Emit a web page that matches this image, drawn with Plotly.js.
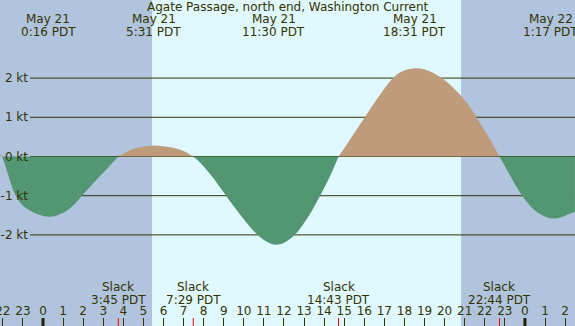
<!DOCTYPE html>
<html><head><meta charset="utf-8">
<script src="https://cdn.plot.ly/plotly-3.0.1.min.js"></script>
<style>html,body{margin:0;padding:0;overflow:hidden;background:#B0C4DE;}#chart{width:575px;height:326px;}</style>
</head><body><div id="chart"></div>
<script>
const chartTitle = 'Agate Passage, north end, Washington Current';
// hours relative to May 21 00:00 PDT, current speed in knots
const flowHours = [-2.14, -2.04,
  -1.9, -1.75, -1.6, -1.45, -1.25, -1.0, -0.65, -0.3, 0.0, 0.3, 0.6, 0.95, 1.25, 1.6, 1.94, 2.4, 2.84, 3.3, 3.75,
  4.0, 4.33, 4.7, 5.1, 5.55, 6.0, 6.5, 6.99, 7.25, 7.48,
  7.8, 8.1, 8.4, 8.75, 9.1, 9.5, 9.9, 10.3, 10.65, 11.0, 11.3, 11.55, 11.85, 12.2, 12.55, 12.9, 13.21, 13.5, 13.8, 14.1, 14.4, 14.72,
  15.12, 15.52, 15.92, 16.32, 16.72, 17.07, 17.37, 17.7, 18.1, 18.55, 19.0, 19.45, 19.86, 20.2, 20.55, 20.9, 21.25, 21.6, 21.95, 22.35, 22.73,
  23.0, 23.29, 23.55, 23.84, 24.1, 24.4, 24.8, 25.3, 25.8, 26.2, 26.49];
const flowKnots = [0.06, 0,
  -0.2, -0.44, -0.68, -0.9, -1.1, -1.25, -1.38, -1.47, -1.52, -1.54, -1.52, -1.45, -1.36, -1.2, -1.0, -0.74, -0.5, -0.25, 0,
  0.07, 0.16, 0.22, 0.26, 0.28, 0.26, 0.22, 0.14, 0.07, 0,
  -0.14, -0.31, -0.5, -0.74, -0.99, -1.27, -1.54, -1.79, -1.98, -2.13, -2.21, -2.25, -2.23, -2.14, -1.99, -1.77, -1.54, -1.28, -1.0, -0.7, -0.38, 0,
  0.3, 0.61, 0.92, 1.23, 1.53, 1.78, 1.97, 2.12, 2.21, 2.25, 2.22, 2.13, 2.0, 1.86, 1.69, 1.5, 1.27, 0.99, 0.7, 0.36, 0,
  -0.24, -0.51, -0.75, -0.98, -1.16, -1.33, -1.48, -1.58, -1.55, -1.47, -1.41];
const maxHours = [0.267, 5.517, 11.5, 18.517, 25.283];
const maxDates = ['May 21', 'May 21', 'May 21', 'May 21', 'May 22'];
const maxTimes = ['0:16 PDT', '5:31 PDT', '11:30 PDT', '18:31 PDT', '1:17 PDT'];
const slackHours = [-2.25, 3.75, 7.483, 14.717, 22.733];
const slackTimes = ['21:45 PDT', '3:45 PDT', '7:29 PDT', '14:43 PDT', '22:44 PDT'];
const hourTicks = [-2, -1, 0, 1, 2, 3, 4, 5, 6, 7, 8, 9, 10, 11, 12, 13, 14, 15, 16, 17, 18, 19, 20, 21, 22, 23, 24, 25, 26];
const hourLabels = ['22', '23', '0', '1', '2', '3', '4', '5', '6', '7', '8', '9', '10', '11', '12', '13', '14', '15', '16', '17', '18', '19', '20', '21', '22', '23', '0', '1', '2'];
const midnightHours = [0, 24];
const daylightHours = [5.43, 20.82];
const knotTicks = [-2, -1, 0, 1, 2];
const knotLabels = ['-2 kt', '-1 kt', '0 kt', '1 kt', '2 kt'];

const W = 575, H = 326;
const INK = '#333300';
const FONT = 'DejaVu Sans, sans-serif';
const FLOOD = '#BE9B7A', EBB = '#529672';

// split into segments between slack (zero) points
const traces = [];
let seg = {x: [], y: []};
for (let i = 0; i < flowHours.length; i++) {
  seg.x.push(flowHours[i]); seg.y.push(flowKnots[i]);
  if (flowKnots[i] === 0 && seg.x.length > 1) {
    traces.push(seg); seg = {x: [flowHours[i]], y: [0]};
  }
}
if (seg.x.length > 1) traces.push(seg);
const data = traces.map(s => {
  const sum = s.y.reduce((a, b) => a + b, 0);
  return {
    type: 'scatter', mode: 'lines', x: s.x, y: s.y,
    line: {width: 0, shape: 'spline', smoothing: 1},
    fill: 'tozeroy', fillcolor: sum >= 0 ? FLOOD : EBB,
    hoverinfo: 'skip', showlegend: false
  };
});

const shapes = [];
shapes.push({type: 'rect', xref: 'x', yref: 'paper', x0: daylightHours[0], x1: daylightHours[1], y0: 0, y1: 1,
  fillcolor: '#E0F8FF', line: {width: 0}, layer: 'below'});
knotTicks.forEach(k => shapes.push({type: 'line', xref: 'paper', yref: 'y', x0: 30 / W, x1: 1, y0: k, y1: k,
  line: {color: INK, width: 1}, layer: 'below'}));
midnightHours.forEach(h => shapes.push({type: 'line', xref: 'x', yref: 'paper', x0: h, x1: h, y0: 0, y1: 8 / H,
  line: {color: '#222200', width: 3}}));
slackHours.forEach(h => shapes.push({type: 'line', xref: 'x', yref: 'paper', x0: h, x1: h, y0: 0, y1: 8 / H,
  line: {color: '#FF0000', width: 1}}));

const ann = [];
const py = px => 1 - px / H;
ann.push({text: chartTitle, xref: 'paper', yref: 'paper', x: 0.5, y: py(7), showarrow: false,
  xanchor: 'center', yanchor: 'middle', font: {family: FONT, size: 12, color: INK}});
maxHours.forEach((h, i) => {
  ann.push({text: maxDates[i], xref: 'x', yref: 'paper', x: h, y: py(19.5), showarrow: false,
    xanchor: 'center', yanchor: 'middle', font: {family: FONT, size: 12, color: INK}});
  ann.push({text: maxTimes[i], xref: 'x', yref: 'paper', x: h, y: py(32), showarrow: false,
    xanchor: 'center', yanchor: 'middle', font: {family: FONT, size: 12, color: INK}});
});
slackHours.forEach((h, i) => {
  ann.push({text: 'Slack', xref: 'x', yref: 'paper', x: h, y: py(287), showarrow: false,
    xanchor: 'center', yanchor: 'middle', font: {family: FONT, size: 12, color: INK}});
  ann.push({text: slackTimes[i], xref: 'x', yref: 'paper', x: h, y: py(300), showarrow: false,
    xanchor: 'center', yanchor: 'middle', font: {family: FONT, size: 12, color: INK}});
});

const layout = {
  width: W, height: H,
  margin: {l: 0, r: 0, t: 0, b: 0, pad: 0},
  paper_bgcolor: '#B0C4DE', plot_bgcolor: 'rgba(0,0,0,0)',
  showlegend: false,
  xaxis: {range: [-2.141, 26.494], showgrid: false, zeroline: false, showline: false,
    tickmode: 'array', tickvals: hourTicks, ticktext: hourLabels,
    ticks: 'inside', ticklen: 8, tickwidth: 1, tickcolor: INK,
    ticklabelposition: 'inside', ticklabeloverflow: 'allow',
    tickfont: {family: FONT, size: 12, color: INK}, fixedrange: true},
  yaxis: {range: [-4.324, 3.992], anchor: 'free', position: 28 / W, showgrid: false, zeroline: false, showline: false,
    tickmode: 'array', tickvals: knotTicks, ticktext: knotLabels, ticks: '',
    tickfont: {family: FONT, size: 12, color: INK}, fixedrange: true},
  shapes: shapes, annotations: ann
};
Plotly.newPlot('chart', data, layout, {displayModeBar: false, staticPlot: true});
</script></body></html>
